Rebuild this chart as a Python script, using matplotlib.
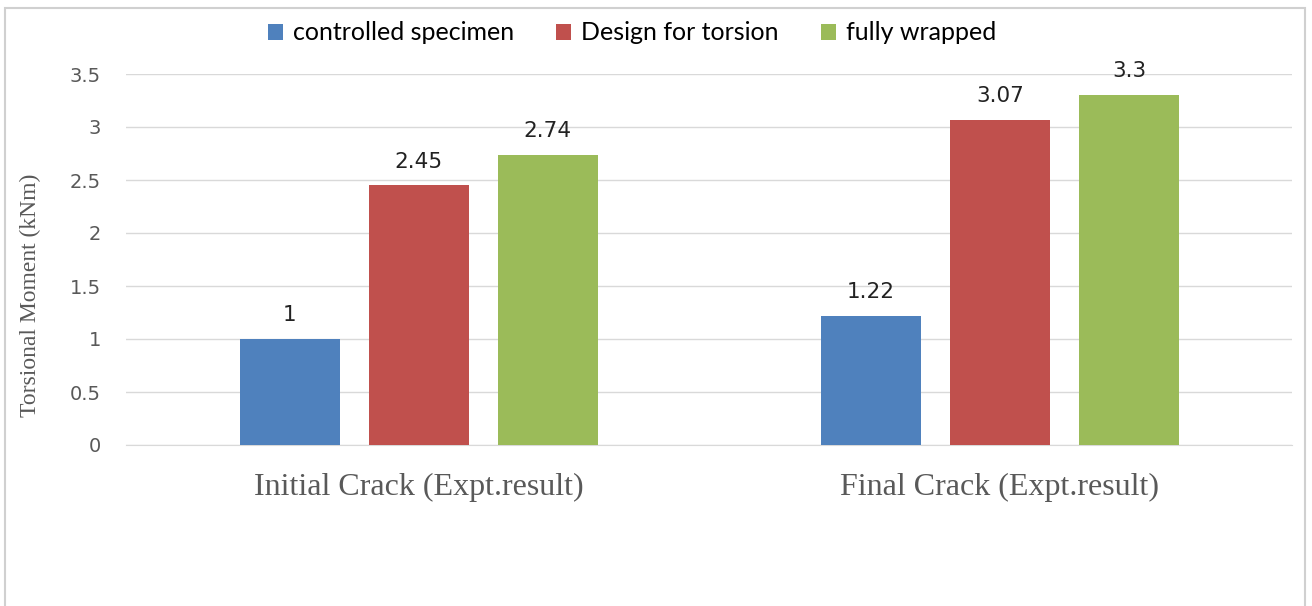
import matplotlib
matplotlib.use("Agg")
import matplotlib.pyplot as plt
from matplotlib.patches import Rectangle
import numpy as np

# data
categories = ["Initial Crack (Expt.result)", "Final Crack (Expt.result)"]
series_names = ["controlled specimen", "Design for torsion", "fully wrapped"]
controlled = [1, 1.22]
design = [2.45, 3.07]
wrapped = [2.74, 3.3]
value_labels = [["1", "1.22"], ["2.45", "3.07"], ["2.74", "3.3"]]
colors = ["#4F81BD", "#C0504D", "#9BBB59"]
yticks = [0, 0.5, 1, 1.5, 2, 2.5, 3, 3.5]

W, H = 1312, 606
fig = plt.figure(figsize=(W / 100, H / 100), dpi=100)
ax = fig.add_axes([126 / W, 1 - 445 / H, (1292 - 126) / W, (445 - 74) / H])

# outer chart frame
fig.patches.append(Rectangle((5 / W, -0.01), 1300 / W, 1 - 8 / H + 0.01,
                             transform=fig.transFigure, fill=False,
                             edgecolor="#D0D0D0", linewidth=1.5))

x = np.arange(len(categories))
width = 0.172
step = 0.222
handles = []
for i, vals in enumerate([controlled, design, wrapped]):
    pos = x + (i - 1) * step
    b = ax.bar(pos, vals, width, color=colors[i], label=series_names[i], zorder=3)
    handles.append(b)
    for p, v, t in zip(pos, vals, value_labels[i]):
        ax.text(p, v + 0.13, t, ha="center", va="bottom", fontsize=15.5,
                color="#222222", family="DejaVu Sans")

ax.set_xlim(-0.504, 1.5026)
ax.set_ylim(0, 3.5)
ax.set_yticks(yticks)
ax.set_yticklabels([f"{t:g}" for t in yticks])
ax.yaxis.grid(True, color="#D9D9D9", linewidth=1, zorder=0)
for s in ax.spines.values():
    s.set_visible(False)
ax.spines["bottom"].set_visible(True)
ax.spines["bottom"].set_color("#D9D9D9")
ax.tick_params(axis="y", length=0, pad=18, labelsize=14, labelcolor="#595959")
ax.tick_params(axis="x", length=0, pad=20, labelsize=23, labelcolor="#595959")
ax.set_xticks(x)
ax.set_xticklabels(categories, family="Liberation Serif")
ax.set_ylabel("Torsional Moment (kNm)", family="Liberation Serif", fontsize=17,
              color="#595959")
ax.yaxis.set_label_coords(-0.073, 0.404)

fig.legend(handles=handles, labels=series_names, loc="center",
           bbox_to_anchor=(632 / W, 1 - 33 / H), ncol=3, frameon=False,
           prop={"family": "Lato", "size": 18}, handlelength=0.6,
           handleheight=0.6, handletextpad=0.4, columnspacing=1.7)

fig.savefig("out.png", dpi=100)
